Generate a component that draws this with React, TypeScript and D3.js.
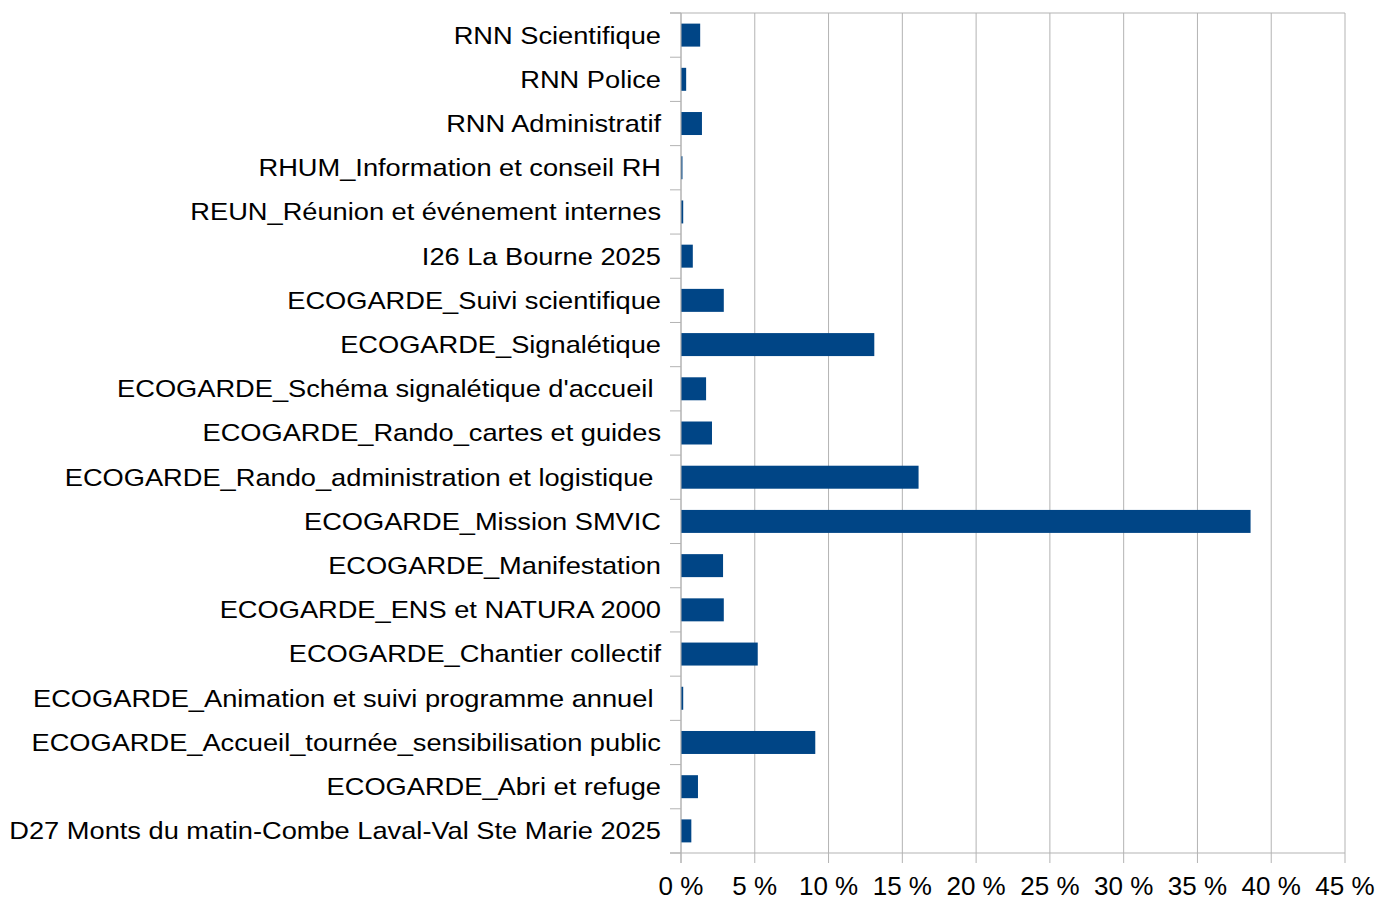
import React from "react";
import * as d3 from "d3";

// categories, top to bottom as shown
const categories = [
  "RNN Scientifique",
  "RNN Police",
  "RNN Administratif",
  "RHUM_Information et conseil RH",
  "REUN_Réunion et événement internes",
  "I26 La Bourne 2025",
  "ECOGARDE_Suivi scientifique",
  "ECOGARDE_Signalétique",
  "ECOGARDE_Schéma signalétique d'accueil ",
  "ECOGARDE_Rando_cartes et guides",
  "ECOGARDE_Rando_administration et logistique ",
  "ECOGARDE_Mission SMVIC",
  "ECOGARDE_Manifestation",
  "ECOGARDE_ENS et NATURA 2000",
  "ECOGARDE_Chantier collectif",
  "ECOGARDE_Animation et suivi programme annuel ",
  "ECOGARDE_Accueil_tournée_sensibilisation public",
  "ECOGARDE_Abri et refuge",
  "D27 Monts du matin-Combe Laval-Val Ste Marie 2025",
];

// share of time, in %
const shares = [
  1.3, 0.35, 1.42, 0.1, 0.15, 0.8, 2.9, 13.1, 1.7, 2.1, 16.1, 38.6, 2.85,
  2.9, 5.2, 0.15, 9.1, 1.15, 0.7,
];

const xTicks = [0, 5, 10, 15, 20, 25, 30, 35, 40, 45];

const W = 1378;
const H = 898;
const left = 681;
const right = 1345;
const top = 13;
const bottom = 853;

const App = () => {
  const x = d3.scaleLinear().domain([0, 45]).range([left, right]);
  const y = d3
    .scaleBand<string>()
    .domain(categories)
    .range([top, bottom])
    .paddingInner(0.48)
    .paddingOuter(0.24);
  const step = (bottom - top) / categories.length;
  const bounds = d3.range(categories.length + 1).map((i) => top + i * step);

  return (
    <svg
      width={W}
      height={H}
      style={{ position: "absolute", left: 0, top: 0, background: "#fff" }}
      fontFamily="'Liberation Sans', Arial, sans-serif"
    >
      {/* vertical gridlines */}
      {xTicks.map((t) => (
        <line
          key={"g" + t}
          x1={x(t)}
          x2={x(t)}
          y1={top}
          y2={bottom + 10}
          stroke="#b3b3b3"
          strokeWidth={1}
        />
      ))}
      {/* top border */}
      <line x1={670} x2={right} y1={top} y2={top} stroke="#b3b3b3" />
      {/* category ticks */}
      {bounds.map((b, i) => (
        <line key={"t" + i} x1={670} x2={left} y1={b} y2={b} stroke="#b3b3b3" />
      ))}
      {/* bottom axis */}
      <line x1={670} x2={right} y1={bottom} y2={bottom} stroke="#b3b3b3" />
      {/* bars */}
      {categories.map((c, i) => (
        <rect
          key={c}
          x={x(0)}
          y={y(c)}
          width={x(shares[i]) - x(0)}
          height={y.bandwidth()}
          fill="#004586"
        />
      ))}
      {/* left axis line */}
      <line x1={left} x2={left} y1={top} y2={bottom + 10} stroke="#b3b3b3" />
      {/* category labels, a bit wider than the font gives */}
      {categories.map((c) => (
        <text
          key={"l" + c}
          transform={`translate(661,${(y(c) as number) + y.bandwidth() / 2}) scale(1.135,1)`}
          dy="0.35em"
          textAnchor="end"
          fontSize={24}
          fill="#000"
          style={{ whiteSpace: "pre" }}
        >
          {c}
        </text>
      ))}
      {/* x tick labels */}
      {xTicks.map((t) => (
        <text
          key={"x" + t}
          x={x(t)}
          y={895}
          textAnchor="middle"
          fontSize={26}
          fill="#000"
        >
          {t + " %"}
        </text>
      ))}
    </svg>
  );
};

export default App;
